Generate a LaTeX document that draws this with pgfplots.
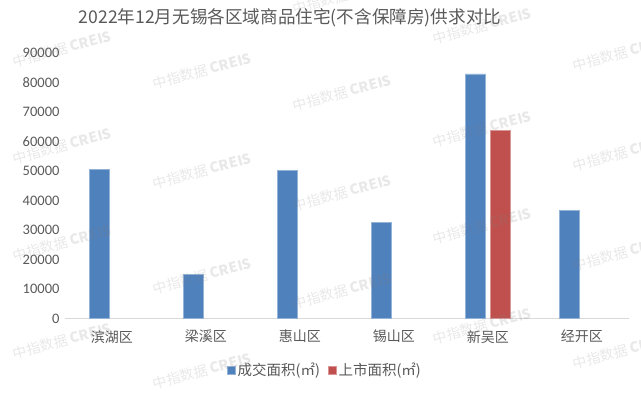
\documentclass[border=0pt]{standalone}
\usepackage{fontspec}
\setmainfont{Noto Sans CJK SC}
\newfontfamily\carlito{Carlito}
\usepackage{pgfplots}
\pgfplotsset{compat=1.18}
\definecolor{cblue}{HTML}{4F81BD}
\definecolor{cred}{HTML}{C0504D}
\definecolor{tgray}{HTML}{595959}
\definecolor{lgray}{HTML}{D9D9D9}
\begin{document}
\begin{tikzpicture}[x=1pt,y=1pt]
\begin{axis}[at={(65pt,77.3pt)}, anchor=south west, scale only axis,
  width=564pt, height=265.4pt,
  ybar=5pt, bar width=20pt,
  xmin=-0.5, xmax=5.5, ymin=0, ymax=90000,
  xtick={0,1,2,3,4,5},
  xticklabels={滨湖区,梁溪区,惠山区,锡山区,新吴区,经开区},
  ytick={0,10000,20000,30000,40000,50000,60000,70000,80000,90000},
  scaled y ticks=false,
  /pgf/number format/1000 sep={},
  /pgf/number format/assume math mode=true,
  axis lines*=left,
  y axis line style={draw=none},
  x axis line style={-, draw=lgray, line width=0.8pt},
  major tick length=0pt, tick style={draw=none},
  yticklabel style={font=\carlito\fontsize{14.5}{14.5}\selectfont, text=tgray, xshift=-2pt},
  xticklabel style={font=\fontsize{14}{14}\selectfont, text=tgray, yshift=-8pt},
  legend style={at={(rel axis cs:0.461,-0.193)}, anchor=center, draw=none,
    legend columns=2, font=\fontsize{14.5}{14.5}\selectfont, text=tgray,
    /tikz/every even column/.append style={column sep=6pt}},
  legend image code/.code={\fill[#1] (0pt,-4pt) rectangle (8pt,4pt);},
]
\addplot[fill=cblue, draw=cblue!60!white, line width=0.6pt]
  coordinates {(0,50700) (1,14900) (2,50400) (3,32700) (4,83000) (5,36700)};
\addplot[fill=cred, draw=cred!60!white, line width=0.6pt]
  coordinates {(4,63800)};
\legend{成交面积(㎡),上市面积(㎡)}
\end{axis}
\node[text=tgray, font=\fontsize{17.6}{17.6}\selectfont] at (290pt,378pt) {2022年12月无锡各区域商品住宅(不含保障房)供求对比};
\foreach \wx/\wy in {10/63,10/160,10/257,10/355,150/85,150/185,150/290,150/385,290/10,290/107,290/207,290/305,430/40,430/143,430/240,430/340,570/67,570/167,570/267,570/365}{
  \node[anchor=west, rotate=15, text=gray, opacity=0.18, font=\fontsize{14}{14}\selectfont] at (\wx pt,396pt-\wy pt) {中指数据 \textbf{CREIS}};
}
\pgfresetboundingbox
\path[use as bounding box] (0pt,0pt) rectangle (641pt,396pt);
\end{tikzpicture}
\end{document}
